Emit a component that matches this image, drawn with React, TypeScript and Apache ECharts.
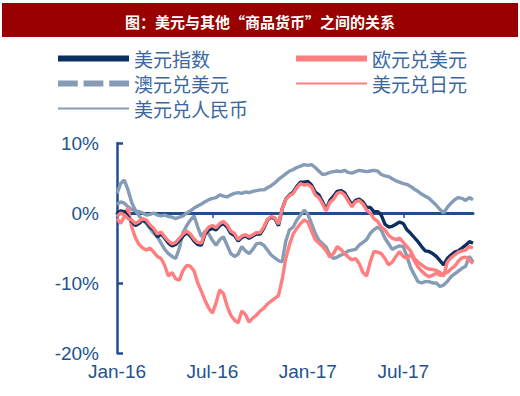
import React, { useEffect, useRef } from 'react';
import * as echarts from 'echarts';

const titleText = '图：美元与其他“商品货币”之间的关系';
const seriesNames = ['美元指数', '欧元兑美元', '澳元兑美元', '美元兑日元', '美元兑人民币'];
const tickLabels = ['Jan-16', 'Jul-16', 'Jan-17', 'Jul-17'];
const tickIndices = [0, 26, 52, 78];
const weekCount = 98;
const weeks: string[] = [];
for (let i = 0; i < weekCount; i++) {
  const d = new Date(Date.UTC(2016, 0, 1 + 7 * i));
  weeks.push(d.toISOString().slice(0, 10));
}

const usdIndex = [0, 0.3, 0.2, -0.5, -1.2, -1.8, -1.5, -1.0, -1.3, -2.0,
  -2.4, -3.4, -3.0, -3.6, -4.3, -4.7, -4.5, -3.9, -3.3, -2.8,
  -3.3, -4.0, -4.5, -4.6, -3.0, -2.4, -2.2, -2.4, -1.8, -1.5,
  -2.0, -2.9, -3.2, -4.0, -3.5, -3.3, -3.6, -3.3, -3.0, -3.0,
  -2.2, -1.0, -0.6, -0.8, -1.8, 0.6, 2.0, 2.6, 3.0, 3.8,
  4.4, 4.4, 4.5, 4.0, 3.0, 2.6, 1.6, 0.5, 1.8, 2.4,
  3.1, 3.2, 2.9, 2.0, 1.2, 1.8, 2.0, 1.6, 0.8, 0.8,
  0.2, 0.2, -0.3, -1.6, -2.0, -1.9, -1.6, -1.3, -1.5, -2.4,
  -2.9, -3.5, -4.1, -4.8, -5.4, -5.5, -5.8, -6.2, -6.8, -7.4,
  -6.5, -6.0, -5.6, -5.4, -5.0, -4.6, -4.1, -4.3];

const eurUsd = [-0.5, 0.0, -0.3, -0.8, -1.0, -1.5, -1.2, -0.8, -1.0, -1.7,
  -2.2, -3.0, -2.7, -3.4, -4.0, -4.4, -4.2, -3.6, -3.0, -2.6,
  -3.0, -3.7, -4.2, -4.3, -2.7, -2.0, -1.8, -2.1, -1.5, -1.2,
  -1.7, -2.6, -2.9, -3.8, -3.3, -3.1, -3.4, -3.1, -2.8, -2.8,
  -2.0, -0.9, -0.5, -0.7, -1.6, 0.6, 1.9, 2.5, 2.8, 3.6,
  4.2, 4.0, 4.1, 3.7, 2.6, 2.2, 1.3, 0.3, 1.5, 2.0,
  2.8, 3.0, 2.6, 1.7, 0.9, 1.6, 1.8, 1.3, 0.4, 0.0,
  -0.8, -1.2, -2.0, -2.4, -3.2, -3.6, -3.8, -3.6, -4.2, -4.8,
  -5.4, -6.5, -7.0, -7.4, -7.8, -8.0, -8.1, -8.2, -8.5, -9.0,
  -7.0, -6.4, -6.0, -5.6, -5.4, -5.3, -4.8, -5.0];

const audUsd = [2.8, 4.2, 4.7, 3.3, 1.5, 0.4, -0.4, -1.0, -1.5, -2.2,
  -2.9, -3.4, -4.3, -5.2, -5.8, -6.2, -6.5, -5.0, -2.8, -1.8,
  -1.0, -0.4, -2.0, -3.4, -2.6, -3.0, -3.9, -4.6, -3.8, -3.4,
  -4.6, -5.8, -6.2, -5.9, -4.8, -5.4, -5.8, -5.2, -4.4, -4.3,
  -4.6, -5.3, -6.0, -6.4, -6.8, -7.0, -4.0, -2.4, -2.0, -1.0,
  -0.3, 0.4, -0.2, -1.5, -2.9, -3.9, -4.4, -4.9, -6.0, -6.5,
  -6.3, -6.0, -5.8, -5.4, -5.3, -5.2, -4.6, -4.2, -3.8, -2.9,
  -2.4, -2.0, -2.4, -3.6, -4.4, -5.2, -4.9, -4.7, -4.8, -6.2,
  -7.8, -8.8, -9.8, -10.0, -9.8, -9.8, -10.0, -10.0, -10.5, -10.3,
  -9.8, -9.1, -8.7, -8.3, -7.9, -7.6, -6.2, -7.0];

const usdJpy = [-0.8, -1.5, -0.5, 0.8, -2.0, -3.5, -4.5, -5.0, -5.3, -5.0,
  -5.6, -6.2, -6.5, -7.5, -9.0, -8.5, -9.4, -9.6, -8.2, -7.5,
  -7.6, -8.3, -10.0, -11.2, -12.5, -13.6, -14.3, -12.8, -11.0, -11.5,
  -13.3, -14.6, -15.3, -15.7, -14.0, -14.5, -15.6, -15.0, -14.6, -14.0,
  -13.6, -13.0, -12.6, -12.2, -11.8, -9.5, -6.5, -4.5, -3.0, -2.2,
  -1.5, -1.0, -1.3, -2.6, -3.8, -4.3, -4.8, -5.4, -6.3, -5.8,
  -4.8, -5.2, -5.8, -6.3, -6.7, -6.5, -7.2, -8.5, -9.0, -7.0,
  -5.5, -5.6, -5.8, -6.5, -7.4, -7.0, -6.2, -5.5, -6.2, -6.5,
  -5.9, -6.8, -7.7, -8.3, -8.8, -9.1, -8.9, -8.6, -8.9, -8.7,
  -8.5, -8.0, -7.6, -6.9, -6.4, -6.3, -6.7, -7.2];

const usdCny = [1.2, 1.6, 1.4, 0.9, 0.5, 0.3, 0.2, 0.0, -0.3, -0.2,
  0.0, -0.3, -0.4, -0.3, -0.5, -0.6, -0.8, -0.6, -0.4, 0.0,
  0.3, 0.7, 1.0, 1.3, 1.6, 1.9, 2.1, 2.2, 2.6, 2.4,
  2.3, 2.6, 2.8, 2.9, 2.8, 3.0, 2.9, 3.1, 3.2, 3.3,
  3.3, 3.6, 3.9, 4.3, 4.8, 5.2, 5.6, 6.0, 6.2, 6.5,
  6.7, 6.9, 6.8, 6.9, 6.5, 6.0, 5.5, 5.6, 5.8, 5.9,
  6.0, 5.9, 6.1, 5.8, 5.7, 5.9, 6.1, 6.0, 5.9, 6.0,
  6.1, 6.0, 5.5, 5.3, 5.2, 4.9, 4.6, 4.4, 4.2, 4.1,
  3.8, 3.4, 3.1, 2.7, 2.4, 2.1, 1.6, 1.1, 0.5, 0.0,
  0.8, 1.4, 1.9, 2.2, 2.1, 1.8, 2.2, 1.9];

const NAVY = '#0c2f5f';
const SALMON = '#ff7f80';
const GREY = '#849cb6';
const AXIS = '#1f4e8c';
const LABEL = '#23528e';
const LEGEND_TEXT = '#3a68a0';

const thickIcon = 'path://M0,0H71V6H0Z';
const thinIcon = 'path://M0,0H71V2H0Z';
const dashIcon = 'path://M0,0H17V5.3H0Z M22,0H39V5.3H22Z M44,0H61V5.3H44Z';

export default function App() {
  const ref = useRef<HTMLDivElement>(null);
  useEffect(() => {
    document.body.style.margin = '0';
    if (!ref.current) return;
    const chart = echarts.init(ref.current, null, { renderer: 'svg' });
    const legendText = { color: LEGEND_TEXT, fontSize: 19, fontFamily: '"Noto Sans CJK SC", sans-serif', lineHeight: 25 };
    const mk = (name: string, data: number[], color: string) => ({
      name, type: 'line', data, showSymbol: false, symbol: 'none',
      lineStyle: { color, width: 3.4 }, itemStyle: { color }, xAxisIndex: 0, yAxisIndex: 0,
    });
    chart.setOption({
      animation: false,
      backgroundColor: '#ffffff',
      graphic: [
        { type: 'rect', silent: true, shape: { x: 2, y: 3, width: 516, height: 34 }, style: { fill: '#990000' } },
        { type: 'text', silent: true, x: 260, y: 21, style: { text: titleText, fill: '#ffffff', font: 'bold 15px "Noto Sans CJK SC", sans-serif', align: 'center', verticalAlign: 'middle' } },
      ],
      legend: [
        {
          left: 53, top: 41, orient: 'vertical', itemWidth: 71, itemHeight: 14, itemGap: 0,
          textStyle: legendText,
          data: [
            { name: seriesNames[0], icon: thickIcon },
            { name: seriesNames[2], icon: dashIcon },
            { name: seriesNames[4], icon: thinIcon },
          ],
        },
        {
          left: 291, top: 41, orient: 'vertical', itemWidth: 71, itemHeight: 14, itemGap: 0,
          textStyle: legendText,
          data: [
            { name: seriesNames[1], icon: thickIcon },
            { name: seriesNames[3], icon: thinIcon },
          ],
        },
      ],
      grid: { left: 117, top: 143, width: 356, height: 210, containLabel: false, outerBoundsMode: 'none' },
      xAxis: {
        type: 'category', data: weeks, boundaryGap: false,
        axisLine: { show: true, onZero: true, lineStyle: { color: AXIS, width: 3 } },
        axisTick: { show: true, length: 5, interval: (i: number) => tickIndices.indexOf(i) > 0, lineStyle: { color: AXIS, width: 1.5 } },
        axisLabel: {
          interval: (i: number) => tickIndices.indexOf(i) >= 0,
          formatter: (_v: string, i: number) => tickLabels[tickIndices.indexOf(i)] ?? '',
          margin: 9, color: LABEL, fontSize: 19, fontFamily: '"Liberation Sans", Arial, sans-serif',
        },
        splitLine: { show: false },
      },
      yAxis: {
        type: 'value', min: -20, max: 10, interval: 10,
        axisLine: { show: true, onZero: false, lineStyle: { color: AXIS, width: 2.5 } },
        axisTick: { show: true, inside: true, length: 6, lineStyle: { color: AXIS, width: 2.5 } },
        axisLabel: { formatter: '{value}%', color: LABEL, fontSize: 19, fontFamily: '"Liberation Sans", Arial, sans-serif', margin: 18 },
        splitLine: { show: false },
      },
      series: [
        mk(seriesNames[4], usdCny, GREY),
        mk(seriesNames[2], audUsd, GREY),
        mk(seriesNames[3], usdJpy, SALMON),
        mk(seriesNames[0], usdIndex, NAVY),
        mk(seriesNames[1], eurUsd, SALMON),
      ],
    });
    return () => chart.dispose();
  }, []);
  return <div ref={ref} style={{ width: 520, height: 396 }} />;
}
